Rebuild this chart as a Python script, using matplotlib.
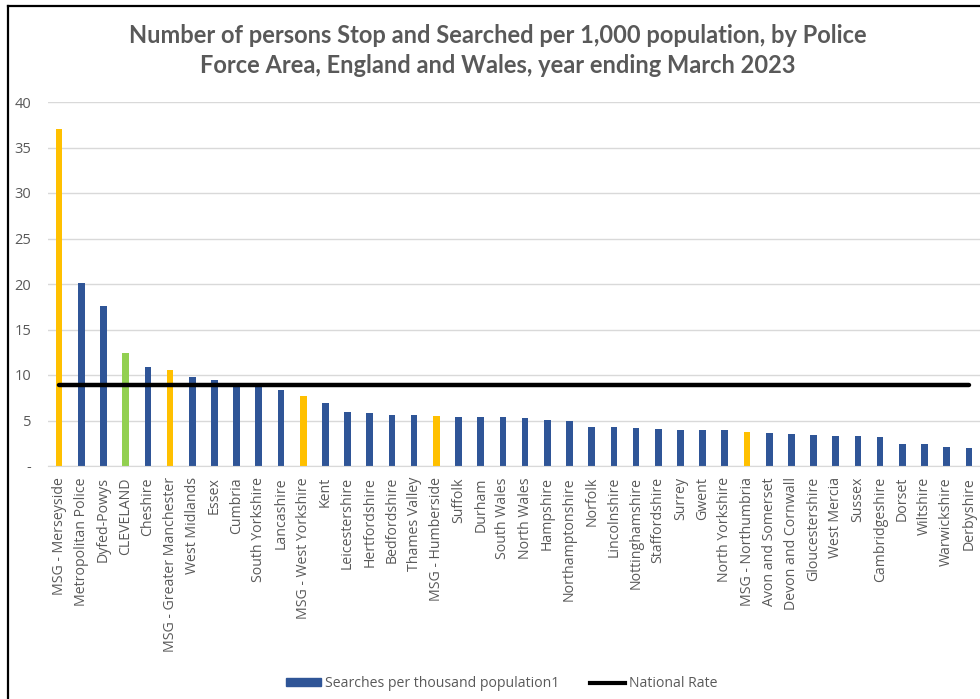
import matplotlib
matplotlib.use('Agg')
import matplotlib.pyplot as plt
from matplotlib.lines import Line2D
from matplotlib.patches import Patch
import numpy as np

forces = ['MSG - Merseyside', 'Metropolitan Police', 'Dyfed-Powys', 'CLEVELAND',
          'Cheshire', 'MSG - Greater Manchester', 'West Midlands', 'Essex',
          'Cumbria', 'South Yorkshire', 'Lancashire', 'MSG - West Yorkshire',
          'Kent', 'Leicestershire', 'Hertfordshire', 'Bedfordshire',
          'Thames Valley', 'MSG - Humberside', 'Suffolk', 'Durham',
          'South Wales', 'North Wales', 'Hampshire', 'Northamptonshire',
          'Norfolk', 'Lincolnshire', 'Nottinghamshire', 'Staffordshire',
          'Surrey', 'Gwent', 'North Yorkshire', 'MSG - Northumbria',
          'Avon and Somerset', 'Devon and Cornwall', 'Gloucestershire',
          'West Mercia', 'Sussex', 'Cambridgeshire', 'Dorset', 'Wiltshire',
          'Warwickshire', 'Derbyshire']
searches = [37.0, 20.1, 17.6, 12.4, 10.9, 10.5, 9.8, 9.4, 9.0, 8.9, 8.4, 7.7,
            6.9, 5.9, 5.8, 5.65, 5.65, 5.5, 5.4, 5.4, 5.4, 5.3, 5.05, 4.95,
            4.3, 4.3, 4.2, 4.1, 4.0, 4.0, 4.0, 3.77, 3.66, 3.5, 3.4, 3.3,
            3.3, 3.15, 2.45, 2.45, 2.1, 1.97]
national_rate = 8.93

BLUE = '#2F5597'
YELLOW = '#FFC000'
GREEN = '#92D050'
GREY = '#595959'


def bar_colour(name):
    if name.startswith('MSG'):
        return YELLOW
    if name == 'CLEVELAND':
        return GREEN
    return BLUE


plt.rcParams['font.family'] = ['Open Sans', 'DejaVu Sans']

fig = plt.figure(figsize=(9.8, 6.99), dpi=100)
ax = fig.add_axes([48 / 980, 233 / 699, 932 / 980, 364 / 699])

x = np.arange(len(forces))
ax.bar(x, searches, width=0.3, color=[bar_colour(f) for f in forces], zorder=2)
ax.plot(x, [national_rate] * len(forces), color='black', lw=3.2,
        solid_capstyle='round', zorder=3)

ax.set_xlim(-0.5, len(forces) - 0.5)
ax.set_ylim(0, 40)
ax.set_yticks(range(0, 41, 5))
ax.set_yticklabels(['-'] + [str(v) for v in range(5, 41, 5)])
ax.yaxis.grid(True, color='#D9D9D9', lw=1)
ax.set_axisbelow(True)
for side in ['top', 'right', 'left']:
    ax.spines[side].set_visible(False)
ax.spines['bottom'].set_color('#D9D9D9')
ax.tick_params(axis='y', length=0, labelsize=10.5, labelcolor=GREY, pad=12)
ax.tick_params(axis='x', length=0, labelsize=10.2, labelcolor=GREY, pad=8)
ax.set_xticks(x)
ax.set_xticklabels(forces, rotation=90)

fig.text(0.508, 0.928, 'Number of persons Stop and Searched per 1,000 population, by Police\n'
         'Force Area, England and Wales, year ending March 2023',
         ha='center', va='center', fontsize=17, fontweight='bold', color=GREY,
         family=['Lato', 'DejaVu Sans'], linespacing=1.38)

handles = [Patch(color=BLUE), Line2D([0], [0], color='black', lw=3)]
fig.legend(handles, ['Searches per thousand population1', 'National Rate'],
           loc='center', bbox_to_anchor=(0.512, 0.022), ncol=2, frameon=False,
           fontsize=10.1, labelcolor=GREY, handlelength=2.5, handletextpad=0.3,
           columnspacing=2.2, handleheight=0.45)

# outer chart border (left and top)
fig.add_artist(Line2D([7.5 / 980, 7.5 / 980], [0, 1 - 5.5 / 699], color='black', lw=1.6,
                      transform=fig.transFigure))
fig.add_artist(Line2D([7.5 / 980, 1], [1 - 5.5 / 699, 1 - 5.5 / 699], color='black', lw=1.6,
                      transform=fig.transFigure))

fig.savefig('out.png', dpi=100)
